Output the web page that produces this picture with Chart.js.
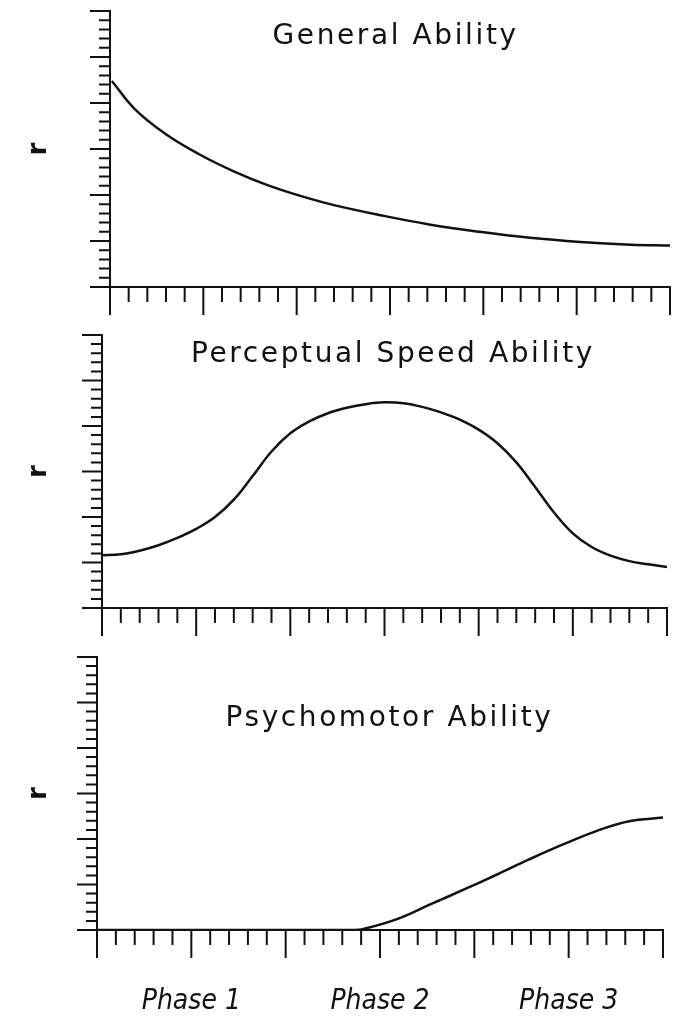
<!DOCTYPE html>
<html>
<head>
<meta charset="utf-8">
<title>Ability correlations across practice phases</title>
<script src="https://cdn.jsdelivr.net/npm/chart.js@4/dist/chart.umd.min.js"></script>
<style>
  html, body { margin: 0; padding: 0; background: #fff; }
  #wrap { position: relative; width: 673px; height: 1018px; }
  #wrap canvas { position: absolute; left: 0; top: 0; }
</style>
</head>
<body>
<div id="wrap">
  <canvas id="generalChart" width="673" height="1018"></canvas>
  <canvas id="perceptualChart" width="673" height="1018"></canvas>
  <canvas id="psychomotorChart" width="673" height="1018"></canvas>
</div>
<script>
// x = practice time in tick units (0..30, ten per phase), r = correlation in tick units (0..30)
const phaseTicks = [5, 15, 25];
const phaseLabels = ["Phase 1", "Phase 2", "Phase 3"];

const generalX = [0.1, 1.3, 3.0, 4.8, 6.6, 8.4, 10.2, 12.0, 14.5, 17.1, 19.8, 22.5, 25.2, 27.9, 30];
const generalR = [22.4, 19.4, 16.6, 14.4, 12.6, 11.1, 9.9, 8.9, 7.8, 6.8, 6.0, 5.35, 4.9, 4.6, 4.5];

const perceptualX = [0, 1, 2, 3, 4, 5, 6, 7, 8, 9, 10, 11, 12, 13, 14, 15, 16, 17, 18, 19, 20, 21, 22, 23, 24, 25, 26, 27, 28, 29, 30];
const perceptualR = [5.8, 5.9, 6.3, 6.9, 7.7, 8.7, 10.0, 11.9, 14.5, 17.2, 19.2, 20.5, 21.4, 22.0, 22.4, 22.6, 22.5, 22.1, 21.5, 20.7, 19.6, 18.1, 16.0, 13.3, 10.5, 8.2, 6.7, 5.75, 5.15, 4.8, 4.5];

const psychomotorX = [0, 5, 10, 13.6, 14.1, 15.9, 17.6, 19.4, 21.2, 22.9, 24.7, 26.5, 28.2, 30];
const psychomotorR = [0, 0, 0, 0, 0.1, 1.2, 2.75, 4.4, 6.1, 7.75, 9.4, 10.9, 11.95, 12.35];

const INK = "#111";
const PAGE_H = 1018;
const PAGE_W = 673;

// hand-drawn style ticks: long every 5 units, short otherwise
const tickMarks = {
  id: "tickMarks",
  afterDraw(chart) {
    const { ctx, chartArea, scales } = chart;
    ctx.save();
    ctx.strokeStyle = INK;
    ctx.lineWidth = 2;
    ctx.beginPath();
    scales.y.ticks.forEach(t => {
      const py = scales.y.getPixelForValue(t.value);
      const len = t.value % 5 === 0 ? 20 : 11;
      ctx.moveTo(chartArea.left, py);
      ctx.lineTo(chartArea.left - len, py);
    });
    scales.x.ticks.forEach(t => {
      const px = scales.x.getPixelForValue(t.value);
      const len = t.value % 5 === 0 ? 28 : 15;
      ctx.moveTo(px, chartArea.bottom);
      ctx.lineTo(px, chartArea.bottom + len);
    });
    ctx.stroke();
    ctx.restore();
  }
};

// panel heading sits inside the plot, placed in data units
const panelTitle = {
  id: "panelTitle",
  afterDraw(chart, args, opts) {
    if (!opts.text) return;
    const { ctx, scales } = chart;
    ctx.save();
    ctx.font = '28px "DejaVu Sans"';
    ctx.letterSpacing = "2.6px";
    ctx.fillStyle = INK;
    ctx.textAlign = "center";
    ctx.textBaseline = "middle";
    ctx.fillText(opts.text, scales.x.getPixelForValue(opts.at[0]), scales.y.getPixelForValue(opts.at[1]));
    ctx.restore();
  }
};

function makePanel(canvasId, xs, rs, title, titleAt, area, showPhases) {
  const ctx = document.getElementById(canvasId).getContext("2d");
  const axisH = showPhases ? PAGE_H - area.bottom : 0;

  return new Chart(ctx, {
    type: "line",
    data: {
      datasets: [{
        data: xs.map((x, i) => ({ x: x, y: rs[i] })),
        borderColor: INK,
        borderWidth: 2.5,
        pointRadius: 0,
        fill: false,
        tension: 0.4
      }]
    },
    options: {
      responsive: false,
      animation: false,
      devicePixelRatio: 1,
      layout: {
        padding: {
          left: 26,
          top: area.top,
          right: PAGE_W - area.right,
          bottom: PAGE_H - area.bottom - axisH
        }
      },
      plugins: {
        legend: { display: false },
        tooltip: { enabled: false },
        panelTitle: { text: title, at: titleAt }
      },
      scales: {
        x: {
          type: "linear",
          min: 0,
          max: 30,
          grid: { display: false, drawTicks: false },
          border: { display: true, color: INK, width: 2 },
          ticks: {
            display: showPhases,
            stepSize: 1,
            maxTicksLimit: 40,
            autoSkip: false,
            maxRotation: 0,
            padding: 55,
            color: INK,
            font: { family: "'Liberation Sans Narrow', 'DejaVu Sans Condensed', 'Liberation Sans'", size: 28, style: "italic" },
            callback: v => {
              const k = phaseTicks.indexOf(v);
              return k >= 0 ? phaseLabels[k] : "";
            }
          },
          afterFit: s => {
            s.height = axisH;
            s.paddingLeft = 0;
            s.paddingRight = 0;
          }
        },
        y: {
          min: 0,
          max: 30,
          grid: { display: false, drawTicks: false },
          border: { display: true, color: INK, width: 2 },
          ticks: { display: false, stepSize: 1, maxTicksLimit: 40, autoSkip: false },
          title: {
            display: true,
            text: "r",
            color: INK,
            padding: { top: 0, bottom: 0 },
            font: { family: "'DejaVu Sans'", size: 26, weight: "bold", lineHeight: 1 }
          },
          afterFit: s => { s.width = area.left - 26; }
        }
      }
    },
    plugins: [tickMarks, panelTitle]
  });
}

makePanel("generalChart", generalX, generalR, "General Ability", [15.3, 27.2],
  { left: 110, top: 11, right: 670, bottom: 287 }, false);
makePanel("perceptualChart", perceptualX, perceptualR, "Perceptual Speed Ability", [15.45, 27.8],
  { left: 102, top: 335, right: 667, bottom: 608 }, false);
makePanel("psychomotorChart", psychomotorX, psychomotorR, "Psychomotor Ability", [15.5, 23.2],
  { left: 97, top: 657, right: 663, bottom: 930 }, true);
</script>
</body>
</html>
